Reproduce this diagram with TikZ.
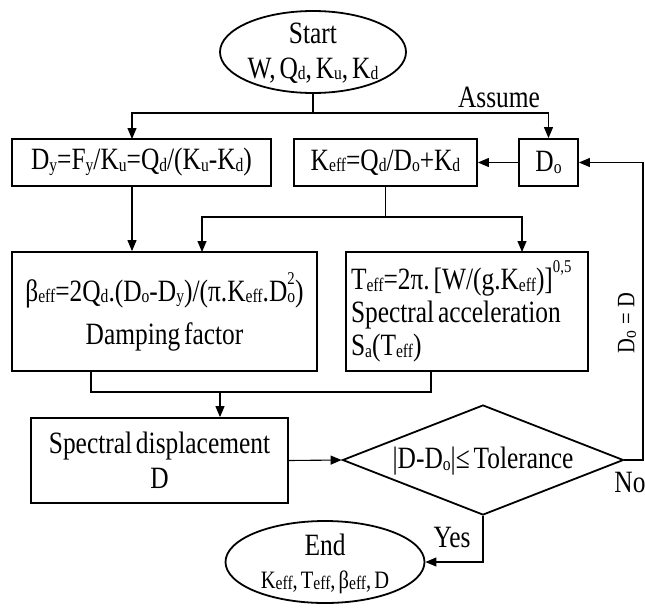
\documentclass[tikz,border=0pt]{standalone}
\usepackage{fontspec}
\setmainfont[FakeStretch=0.82,WordSpace=0.6]{Liberation Serif}
\usetikzlibrary{arrows.meta,shapes.geometric}
\newcommand\sbs[1]{\raisebox{-0.12ex}{\fontsize{19}{19}\selectfont #1}}
\newcommand\sps[1]{\raisebox{1.2ex}{\fontsize{18}{18}\selectfont #1}}
\frenchspacing
\begin{document}
\begin{tikzpicture}[x=1pt,y=-1pt,
  every node/.style={font=\fontsize{31}{33}\selectfont},
  box/.style={draw,line width=1.8pt,inner sep=0pt,rectangle},
  conn/.style={line width=1.1pt},
  arr/.style={conn,-{Triangle[length=11pt,width=9pt]}},
  lbl/.style={inner sep=0pt}]
\useasboundingbox (0,0) rectangle (645,608);
% nodes
\node[draw,ellipse,line width=1.8pt,minimum width=186pt,minimum height=82pt,inner sep=0pt] (start) at (313,52) {};
\node[lbl,align=center] (starttxt) at (313,53) {Start\\[2pt]W, Q\sbs{d}, K\sbs{u}, K\sbs{d}};
\node[box,minimum width=259pt,minimum height=47pt] (dy) at (141.5,162.5) {D\sbs{y}=F\sbs{y}/K\sbs{u}=Q\sbs{d}/(K\sbs{u}-K\sbs{d})};
\node[box,minimum width=183pt,minimum height=47pt] (keff) at (385.5,162.5) {K\sbs{eff}=Q\sbs{d}/D\sbs{o}+K\sbs{d}};
\node[box,minimum width=59pt,minimum height=47pt] (do) at (548.5,162.5) {D\sbs{o}};
\node[box,minimum width=305pt,minimum height=119pt,align=center] (beta) at (164.5,311.5)
  {β\sbs{eff}=2Q\sbs{d}.(D\sbs{o}-D\sbs{y})/(π.K\sbs{eff}.D\makebox[0pt][l]{\sps{2}}\sbs{o})\\[10pt]Damping factor};
\node[box,minimum width=242pt,minimum height=119pt,align=flush left,text width=232pt] (teff) at (467,311.5)
  {T\sbs{eff}=2π. [W/(g.K\sbs{eff})]\sps{0,5}\\Spectral acceleration\\S\sbs{a}(T\sbs{eff})};
\node[box,minimum width=257pt,minimum height=85pt,align=center] (sd) at (159.5,460.5) {Spectral displacement\\[2pt]D};
\node[draw,diamond,line width=1.8pt,minimum width=281pt,minimum height=110pt,inner sep=0pt] (dec) at (483,460) {};
\node[lbl] (dectxt) at (483,461) {|D-D\sbs{o}|≤ Tolerance};
\node[draw,ellipse,line width=1.8pt,minimum width=199pt,minimum height=82pt,inner sep=0pt] (end) at (325,562) {};
\node[lbl,align=center] (endtxt) at (325,564) {End\\[0pt]{\fontsize{25}{28}\selectfont K\sbs{eff}, T\sbs{eff}, β\sbs{eff}, D}};
% labels
\node[lbl] (assume) at (499,97) {Assume};
\node[lbl] (yes) at (452,537) {Yes};
\node[lbl] (no) at (630,482) {No};
\node[lbl,rotate=90,font=\fontsize{25}{28}\selectfont] (doeq) at (627,323) {D\sbs{o}\hspace{6pt}=\hspace{6pt}D};
% coordinates
\coordinate (j1) at (313,113);
\coordinate (dyin) at (132,139);
\coordinate (j2) at (385.5,217);
\coordinate (bin) at (202,252);
\coordinate (tin) at (522,252);
\coordinate (bout) at (91,371);
\coordinate (tout) at (431,371);
\coordinate (j3) at (220,392);
\coordinate (fb) at (643,460);
% connectors
\draw[conn] (start.south) -- (j1);
\draw[arr] (j1) -| (dyin);
\draw[arr] (j1) -| (do.north);
\draw[arr] (do.west) -- (keff.east);
\draw[arr] (dec.east) -- (fb) |- (do.east);
\draw[arr] (dyin |- dy.south) -- (dyin |- beta.north);
\draw[conn] (keff.south) -- (j2);
\draw[arr] (j2) -| (bin);
\draw[arr] (j2) -| (tin);
\draw[conn] (bout) |- (j3);
\draw[conn] (tout) |- (j3);
\draw[arr] (j3) -- (j3 |- sd.north);
\draw[arr] (sd.east) -- (dec.west);
\draw[arr] (dec.south) |- (end.east);
\end{tikzpicture}
\end{document}
